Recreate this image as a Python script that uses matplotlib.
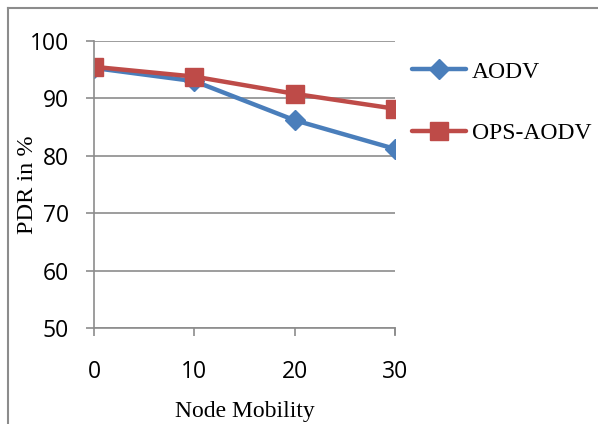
import matplotlib.pyplot as plt
from matplotlib.lines import Line2D

mobility = [0, 10, 20, 30]
aodv = [95.3, 93.0, 86.2, 81.2]
ops_aodv = [95.5, 93.8, 90.8, 88.2]
y_ticks = [50, 60, 70, 80, 90, 100]

fig = plt.figure(figsize=(5.98, 4.24), dpi=100)
ax = fig.add_axes([94 / 598, 1 - 328 / 424, 301 / 598, 287 / 424])

ax.plot(mobility, aodv, color="#4A7EBB", lw=3.2, marker="D", ms=10,
        label="AODV", solid_capstyle="round")
ax.plot(mobility, ops_aodv, color="#BE4B48", lw=3.2, marker="s", ms=13,
        label="OPS-AODV", solid_capstyle="round")

ax.set_xlim(0, 30)
ax.set_ylim(50, 100)
ax.set_xticks(mobility)
ax.set_yticks(y_ticks)
ax.grid(axis="y", color="#8c8c8c", lw=1.2)
ax.set_axisbelow(True)
for s in ["top", "right"]:
    ax.spines[s].set_visible(False)
for s in ["left", "bottom"]:
    ax.spines[s].set_color("#8c8c8c")
    ax.spines[s].set_linewidth(1.2)
ax.tick_params(colors="#8c8c8c", length=6, width=1.2, labelcolor="black",
               labelsize=16.5)
ax.tick_params(axis="y", pad=12)
ax.tick_params(axis="x", pad=17)
for lab in ax.get_xticklabels() + ax.get_yticklabels():
    lab.set_family("Open Sans")

ax.set_xlabel("Node Mobility", family="Liberation Serif", fontsize=17, labelpad=12)
ax.set_ylabel("PDR in %", family="Liberation Serif", fontsize=17.5)
ax.yaxis.set_label_coords(-56 / 301, 0.498)
ax.plot([30, 30], [50, 49.0], color="#8c8c8c", lw=1.2, clip_on=False)

leg = ax.legend(loc="upper left", bbox_to_anchor=(1 + 17 / 301, 0.93), frameon=False,
                prop={"family": "Liberation Serif", "size": 17},
                labelspacing=1.7, handlelength=2.3, handletextpad=0.25,
                borderpad=0, borderaxespad=0)

# figure frame (left and top edges visible)
fig.add_artist(Line2D([7.5 / 598, 7.5 / 598], [0, 1 - 7.5 / 424],
                      transform=fig.transFigure, color="#8c8c8c", lw=1.5))
fig.add_artist(Line2D([7.5 / 598, 1], [1 - 7.5 / 424, 1 - 7.5 / 424],
                      transform=fig.transFigure, color="#8c8c8c", lw=1.5))

fig.savefig("out.png", dpi=100)
